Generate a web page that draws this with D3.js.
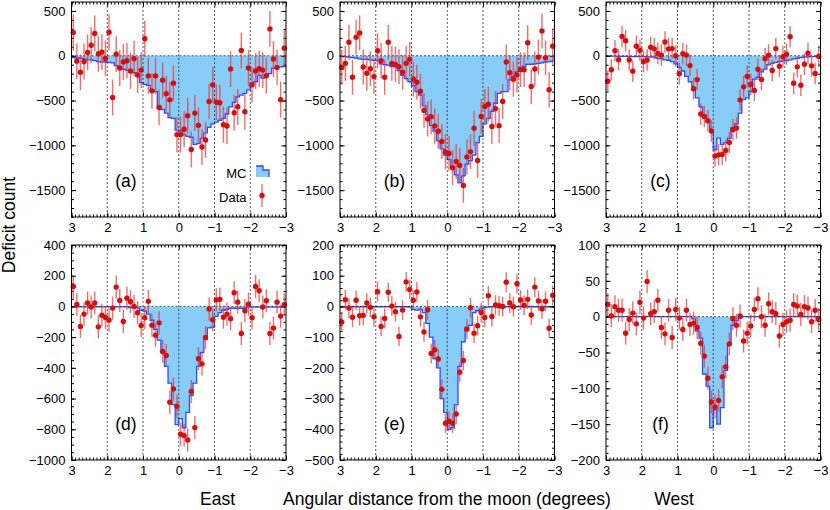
<!DOCTYPE html>
<html>
<head>
<meta charset="utf-8">
<script src="https://cdn.jsdelivr.net/npm/d3@7"></script>
<style>
  body { margin: 0; background: #fff; }
  svg { display: block; font-family: "Liberation Sans", Arial, Helvetica, sans-serif; }
</style>
</head>
<body>
<svg id="chart" width="830" height="510"></svg>
<script>
// histogram bin edges, degrees (east positive, axis runs 3 -> -3)
const binEdges = [3.0, 2.9, 2.8, 2.7, 2.6, 2.5, 2.4, 2.3, 2.2, 2.1,
  2.0, 1.9, 1.8, 1.7, 1.6, 1.5, 1.4, 1.3, 1.2, 1.1,
  1.0, 0.9, 0.8, 0.7, 0.6, 0.5, 0.4, 0.3, 0.2, 0.1,
  0.0, -0.1, -0.2, -0.3, -0.4, -0.5, -0.6, -0.7, -0.8, -0.9,
  -1.0, -1.1, -1.2, -1.3, -1.4, -1.5, -1.6, -1.7, -1.8, -1.9,
  -2.0, -2.1, -2.2, -2.3, -2.4, -2.5, -2.6, -2.7, -2.8, -2.9, -3.0];

const dataA = [260, -60, -185, -65, 37, 118, 248, 22, 40, -30,
  263, -466, 18, -137, -70, -55, -170, -33, -215, -160,
  189, -225, -392, -225, -577, -274, -425, -492, -307, -880,
  -880, -820, -670, -1047, -640, -777, -1018, -940, -510, -325,
  -518, -525, -770, -784, -148, -636, -570, 60, -625, -137,
  -325, -170, -145, -160, -222, 300, -37, -130, -490, 85];
const mcA = [-20, -25, -30, -35, -45, -45, -55, -65, -70, -70,
  -75, -80, -110, -140, -150, -160, -165, -190, -200, -300,
  -320, -330, -380, -400, -560, -600, -640, -690, -700, -830,
  -840, -880, -900, -910, -990, -980, -920, -860, -800, -760,
  -740, -720, -700, -650, -570, -520, -460, -440, -420, -380,
  -310, -290, -220, -250, -210, -200, -140, -130, -125, -120];

const dataB = [-130, -85, 150, -240, 207, 255, -125, -195, -145, -233,
  55, -55, -240, 150, -85, -96, -122, -185, -85, -40,
  -260, -296, -396, -610, -706, -680, -785, -843, -958, -1073,
  -1090, -1250, -1180, -1225, -1447, -1130, -1070, -810, -1170, -677,
  -566, -540, -790, -590, -780, -510, -70, -190, -263, -215,
  -155, -155, 145, -344, -148, -15, 277, -22, -380, 107];
const mcB = [-10, -10, -15, -20, -25, -35, -40, -40, -45, -50,
  -55, -90, -100, -105, -120, -125, -165, -220, -255, -290,
  -335, -400, -440, -560, -660, -780, -840, -950, -1040, -1110,
  -1160, -1240, -1330, -1420, -1340, -1210, -1170, -1110, -970, -900,
  -760, -700, -620, -530, -420, -400, -400, -270, -230, -180,
  -145, -120, -95, -95, -90, -85, -80, -70, -65, -60];

const dataC = [-285, -157, 55, -44, 215, 168, -47, -172, 106, 62,
  -66, -47, 95, 77, 26, 7, 153, 77, 80, 0,
  -200, 22, 7, -110, -369, -266, -650, -679, -726, -840,
  -1120, -1106, -1102, -1058, -967, -825, -807, -493, -347, -230,
  -318, -387, -150, -266, -33, 7, -164, 80, -117, -11,
  18, 212, -307, -124, -329, -95, 29, -113, -197, -7];
const mcC = [-5, -5, -5, -8, -8, -8, -10, -10, -10, -10,
  -10, -12, -12, -15, -30, -35, -45, -50, -65, -90,
  -130, -170, -230, -290, -380, -470, -570, -660, -740, -830,
  -1050, -920, -990, -970, -920, -800, -760, -640, -490, -470,
  -400, -260, -240, -180, -150, -100, -85, -75, -65, -60,
  -55, -45, -35, -30, -20, -15, -12, -10, -10, -8];

const dataD = [130, 13, -130, -50, 22, -4, 22, -133, -57, -72,
  -89, -11, 126, 39, -98, 54, 30, 0, -41, -124,
  -74, 33, -122, -187, -107, -293, -320, -624, -537, -650,
  -832, -841, -870, -554, -789, -341, -374, -202, -17, -87,
  43, 46, -70, -50, -80, 89, 28, -176, -28, 15,
  -74, 130, 102, -4, 37, -176, -141, 28, -63, 11];
const mcD = [-3, -3, -3, -3, -3, -3, -3, -3, -3, -3,
  -3, -3, -3, -3, -3, -3, -8, -8, -10, -25,
  -30, -50, -90, -150, -220, -300, -390, -500, -640, -770,
  -730, -790, -690, -580, -500, -390, -300, -215, -140, -135,
  -65, -40, -25, -20, -12, -12, -12, -12, -12, -4,
  -4, -4, -4, -4, -4, -4, -4, -4, -4, -4];

const dataE = [-51, 22, -5, -35, 20, -30, -29, 11, -3, -34,
  48, -65, -39, 46, 1, -17, -98, -12, 80, 55,
  20, 47, -34, -83, -11, -153, -141, -171, -270, -380,
  -374, -380, -350, -214, -176, -74, -4, -87, -63, -20,
  -36, 35, -33, 5, 2, 0, 79, 11, -1, 74,
  21, 4, 23, -28, 63, 18, -8, 17, -71, 36];
const mcE = [-1, -1, -1, -1, -1, -1, -1, -1, -1, -1,
  -1, -1, -1, -1, -1, -1, -1, -1, -1, -2,
  -10, -12, -10, -20, -55, -100, -170, -200, -300, -345,
  -400, -395, -320, -195, -115, -68, -62, -20, -14, -8,
  -4, -2, -1, -1, -1, -1, -1, -1, -1, -1,
  -1, -1, -1, -1, -1, -1, -1, -1, -1, -1];

const dataF = [17, 1, 14, 9, 9, -23, -4, 5, -10, 20,
  -2, 49, 4, 7, 23, -15, -24, 9, -29, 10,
  -2, -18, 9, -11, -9, -15, -37, -55, -86, -119,
  -126, -117, -84, -70, -38, -3, -12, 1, -34, -23,
  -13, 10, 25, 0, -12, 18, 7, 4, -27, -11,
  -7, -5, 17, 15, 3, 14, 12, -7, 9, -4];
const mcF = [0, 0, 0, 0, 0, 0, 0, 0, 0, 0,
  0, 0, 0, 0, 0, 0, 0, 0, 0, 0,
  0, 0, 0, 0, -3, -20, -30, -80, -97, -155,
  -130, -150, -127, -75, -38, -12, -6, -2, 0, 0,
  0, 0, 0, 0, 0, 0, 0, 0, 0, 0,
  0, 0, 0, 0, 0, 0, 0, 0, 0, 0];

// statistical error bar half-length per panel
const dataErr = [200, 195, 120, 75, 32, 16];

const panelLabels = ["(a)", "(b)", "(c)", "(d)", "(e)", "(f)"];
const xTicks = [3, 2, 1, 0, -1, -2, -3];
const gridX = [2, 1, 0, -1, -2];
const yTicksTop = [-1500, -1000, -500, 0, 500];
const yTicksD = [-1000, -800, -600, -400, -200, 0, 200, 400];
const yTicksE = [-500, -400, -300, -200, -100, 0, 100, 200];
const yTicksF = [-200, -150, -100, -50, 0, 50, 100];
const yDomainTop = [-1800, 600];
const yDomainD = [-1000, 400];
const yDomainE = [-500, 200];
const yDomainF = [-200, 100];
const yMinorStep = [100, 100, 100, 50, 20, 10];

const colLeft = [71.5, 340, 606];
const rowTop = [2, 245];
const pw = 214.5;
const ph = 215;

const mcFill = "#88ccf8";
const mcLine = "#2b4cff";
const red = "#d40f0f";

const panels = [
  { data: dataA, mc: mcA, yDomain: yDomainTop, yTicks: yTicksTop },
  { data: dataB, mc: mcB, yDomain: yDomainTop, yTicks: yTicksTop },
  { data: dataC, mc: mcC, yDomain: yDomainTop, yTicks: yTicksTop },
  { data: dataD, mc: mcD, yDomain: yDomainD, yTicks: yTicksD },
  { data: dataE, mc: mcE, yDomain: yDomainE, yTicks: yTicksE },
  { data: dataF, mc: mcF, yDomain: yDomainF, yTicks: yTicksF }
];

const svg = d3.select("#chart");
svg.append("rect").attr("width", 830).attr("height", 510).attr("fill", "#fff");

const fmt = d3.format("d");
const dotted = sel => sel
  .attr("stroke", "#222")
  .attr("stroke-width", 0.75)
  .attr("stroke-dasharray", "2,2");

panels.forEach((p, i) => {
  const g = svg.append("g")
    .attr("transform", `translate(${colLeft[i % 3]},${rowTop[Math.floor(i / 3)]})`);

  const x = d3.scaleLinear().domain([3, -3]).range([0, pw]);
  const y = d3.scaleLinear().domain(p.yDomain).range([ph, 0]);

  g.append("clipPath").attr("id", `clip${i}`)
    .append("rect").attr("width", pw).attr("height", ph);
  const body = g.append("g").attr("clip-path", `url(#clip${i})`);

  // MC step histogram
  const steps = p.mc.map((v, k) => [binEdges[k], v]).concat([[binEdges[p.mc.length], p.mc[p.mc.length - 1]]]);
  body.append("path")
    .datum(steps)
    .attr("fill", mcFill)
    .attr("d", d3.area().curve(d3.curveStepAfter)
      .x(d => x(d[0])).y0(y(0)).y1(d => y(d[1])));
  body.append("path")
    .datum(steps)
    .attr("fill", "none")
    .attr("stroke", mcLine)
    .attr("stroke-width", 1.3)
    .attr("d", d3.line().curve(d3.curveStepAfter)
      .x(d => x(d[0])).y(d => y(d[1])));

  // dotted grid
  body.selectAll(".vgrid").data(gridX).join("line")
    .attr("x1", d => x(d)).attr("x2", d => x(d))
    .attr("y1", 0).attr("y2", ph)
    .call(dotted);
  body.append("line")
    .attr("x1", 0).attr("x2", pw)
    .attr("y1", y(0)).attr("y2", y(0))
    .call(dotted);

  // axes, ticks pointing inward on all four sides
  const minorX = d3.range(-30, 31).map(v => v / 10);
  const minorY = d3.range(p.yDomain[0], p.yDomain[1] + 1e-9, yMinorStep[i]);

  const axes = [
    [d3.axisBottom(x).tickValues(xTicks).tickFormat(fmt), `translate(0,${ph})`],
    [d3.axisTop(x).tickValues(xTicks).tickFormat(""), null],
    [d3.axisLeft(y).tickValues(p.yTicks).tickFormat(fmt), null],
    [d3.axisRight(y).tickValues(p.yTicks).tickFormat(""), `translate(${pw},0)`]
  ];
  const minors = [
    [d3.axisBottom(x).tickValues(minorX), `translate(0,${ph})`],
    [d3.axisTop(x).tickValues(minorX), null],
    [d3.axisLeft(y).tickValues(minorY), null],
    [d3.axisRight(y).tickValues(minorY), `translate(${pw},0)`]
  ];
  minors.forEach(([ax, tr]) => {
    g.append("g").attr("transform", tr)
      .call(ax.tickSize(-2.5).tickSizeOuter(0).tickFormat(""))
      .call(a => a.select(".domain").remove());
  });
  axes.forEach(([ax, tr]) => {
    g.append("g").attr("transform", tr)
      .call(ax.tickSize(-4.5).tickSizeOuter(0).tickPadding(6))
      .call(a => a.select(".domain").remove())
      .call(a => a.selectAll("text").attr("font-size", 13).attr("font-family", null));
  });

  // data with error bars
  const pts = p.data.map((v, k) => ({ x: (binEdges[k] + binEdges[k + 1]) / 2, v }));
  g.selectAll(".err").data(pts).join("line")
    .attr("x1", d => x(d.x)).attr("x2", d => x(d.x))
    .attr("y1", d => y(d.v - dataErr[i])).attr("y2", d => y(d.v + dataErr[i]))
    .attr("stroke", "#e33")
    .attr("stroke-opacity", 0.72)
    .attr("stroke-width", 1.4);
  g.selectAll(".pt").data(pts).join("circle")
    .attr("cx", d => x(d.x)).attr("cy", d => y(d.v))
    .attr("r", 2.7)
    .attr("fill", red);

  g.append("rect")
    .attr("width", pw).attr("height", ph)
    .attr("fill", "none").attr("stroke", "#000").attr("stroke-width", 1);

  g.append("text")
    .attr("x", 54.5).attr("y", 179).attr("dy", "0.35em")
    .attr("text-anchor", "middle")
    .attr("font-size", 17.5)
    .text(panelLabels[i]);

  // legend lives in panel (a)
  if (i === 0) {
    const lg = g.append("g").attr("font-size", 13).attr("text-anchor", "end");
    lg.append("text").attr("x", 175).attr("y", 175.5).text("MC");
    lg.append("text").attr("x", 175).attr("y", 199.5).text("Data");
    lg.append("path")
      .attr("d", "M184.5,164H191.5V168H197.5V175H184.5Z")
      .attr("fill", mcFill);
    lg.append("path")
      .attr("d", "M184.5,164H191.5V168H197.5V175")
      .attr("fill", "none").attr("stroke", mcLine).attr("stroke-width", 1.3);
    lg.append("line")
      .attr("x1", 190.5).attr("x2", 190.5).attr("y1", 182).attr("y2", 205)
      .attr("stroke", "#e33").attr("stroke-opacity", 0.72).attr("stroke-width", 1.4);
    lg.append("circle").attr("cx", 190.5).attr("cy", 193.5).attr("r", 2.7).attr("fill", red);
  }
});

// shared axis titles
svg.append("text")
  .attr("transform", "translate(14.5,225) rotate(-90)")
  .attr("text-anchor", "middle")
  .attr("font-size", 17.5)
  .text("Deficit count");

const bottomTitles = [
  ["East", 217.5],
  ["Angular distance from the moon (degrees)", 447],
  ["West", 674]
];
svg.selectAll(".xtitle").data(bottomTitles).join("text")
  .attr("x", d => d[1]).attr("y", 505)
  .attr("text-anchor", "middle")
  .attr("font-size", 17.5)
  .text(d => d[0]);
</script>
</body>
</html>
